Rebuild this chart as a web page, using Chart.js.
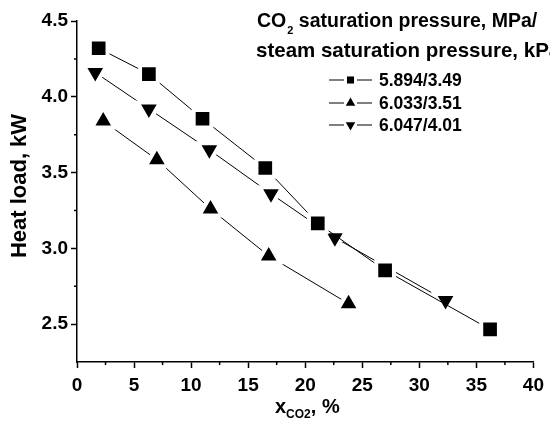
<!DOCTYPE html>
<html>
<head>
<meta charset="utf-8">
<script src="https://cdn.jsdelivr.net/npm/chart.js@4.4.1/dist/chart.umd.min.js"></script>
<style>
  html, body { margin: 0; padding: 0; background: #fff; }
  #wrap { width: 550px; height: 429px; }
</style>
</head>
<body>
<div id="wrap"><canvas id="chart"></canvas></div>
<script>
// Data
const xSquare = [1.9, 6.3, 11.0, 16.5, 21.1, 27.0, 36.2];
const ySquare = [4.32, 4.15, 3.855, 3.53, 3.165, 2.855, 2.465];
const xUp = [2.3, 7.0, 11.7, 16.8, 23.8];
const yUp = [3.84, 3.585, 3.26, 2.95, 2.635];
const xDown = [1.6, 6.3, 11.6, 17.0, 22.6, 32.3];
const yDown = [4.16, 3.92, 3.65, 3.36, 3.07, 2.655];

const seriesLabels = ['5.894/3.49', '6.033/3.51', '6.047/4.01'];
const xTicks = [0, 5, 10, 15, 20, 25, 30, 35, 40];
const yTicks = [2.5, 3.0, 3.5, 4.0, 4.5];
const xMinor = [2.5, 7.5, 12.5, 17.5, 22.5, 27.5, 32.5, 37.5];
const yMinor = [2.75, 3.25, 3.75, 4.25];

const FONT = "'Liberation Sans', Arial, sans-serif";

function pts(xs, ys) {
    return xs.map((x, i) => ({ x: x, y: ys[i] }));
}

function series(label, xs, ys, style, rot, r) {
    return {
        label: label,
        data: pts(xs, ys),
        borderColor: '#000',
        borderWidth: 1,
        backgroundColor: '#000',
        pointStyle: style,
        pointRotation: rot,
        pointRadius: r,
        pointBorderWidth: 4,
        pointBorderColor: '#fff',
        pointBackgroundColor: '#000',
        showLine: true,
        tension: 0
    };
}

// minor ticks, axis titles and the legend block
const extras = {
    id: 'extras',
    afterDraw(chart) {
        const ctx = chart.ctx;
        const xs = chart.scales.x, ys = chart.scales.y;
        const area = chart.chartArea;
        ctx.save();
        ctx.strokeStyle = '#000';
        ctx.lineWidth = 1.5;
        ctx.beginPath();
        xMinor.forEach(v => {
            const px = xs.getPixelForValue(v);
            ctx.moveTo(px, area.bottom);
            ctx.lineTo(px, area.bottom + 3);
        });
        yMinor.forEach(v => {
            const py = ys.getPixelForValue(v);
            ctx.moveTo(area.left, py);
            ctx.lineTo(area.left - 3, py);
        });
        ctx.stroke();

        ctx.fillStyle = '#000';
        // y title
        ctx.save();
        ctx.translate(26, 186);
        ctx.rotate(-Math.PI / 2);
        ctx.font = 'bold 22px ' + FONT;
        ctx.textAlign = 'center';
        ctx.textBaseline = 'alphabetic';
        ctx.fillText('Heat load, kW', 0, 0);
        ctx.restore();

        // x title: x_CO2, %
        ctx.textBaseline = 'alphabetic';
        ctx.textAlign = 'left';
        const big = 'bold 20px ' + FONT, small = 'bold 12px ' + FONT;
        ctx.font = big;
        const w1 = ctx.measureText('x').width;
        ctx.font = small;
        const w2 = ctx.measureText('CO2').width;
        let x0 = 275;
        const by = 413;
        ctx.font = big;
        ctx.fillText('x', x0, by);
        ctx.font = small;
        ctx.fillText('CO2', x0 + w1, by + 5);
        ctx.font = big;
        ctx.fillText(', %', x0 + w1 + w2, by);

        // legend title
        const tf = 'bold 19.5px ' + FONT;
        ctx.font = tf;
        let lx = 257;
        ctx.fillText('CO', lx, 27);
        lx += ctx.measureText('CO').width;
        ctx.font = 'bold 11px ' + FONT;
        ctx.fillText('2', lx + 1, 34);
        lx += ctx.measureText('2').width + 1;
        ctx.font = tf;
        ctx.fillText(' saturation pressure, MPa/', lx, 27);
        ctx.font = 'bold 20.5px ' + FONT;
        ctx.fillText('steam saturation pressure, kPa', 256, 57);

        // legend entries
        const ds = chart.data.datasets;
        const rows = [80, 103, 125];
        ds.forEach((d, i) => {
            const cy = rows[i];
            ctx.lineWidth = 1;
            ctx.beginPath();
            ctx.moveTo(329, cy);
            ctx.lineTo(344, cy);
            ctx.moveTo(357, cy);
            ctx.lineTo(372, cy);
            ctx.stroke();
            Chart.helpers.drawPoint(ctx, {
                pointStyle: d.pointStyle,
                rotation: d.pointRotation,
                radius: d.pointStyle === 'rect' ? 5 : 5.5,
                borderWidth: 0
            }, 350.5, cy);
            ctx.font = 'bold 17.5px ' + FONT;
            ctx.textBaseline = 'middle';
            ctx.fillText(d.label, 379, cy + 1);
        });
        ctx.restore();
    }
};

new Chart(document.getElementById('chart'), {
    type: 'scatter',
    data: {
        datasets: [
            series(seriesLabels[0], xSquare, ySquare, 'rect', 0, 12.5),
            series(seriesLabels[1], xUp, yUp, 'triangle', 0, 13),
            series(seriesLabels[2], xDown, yDown, 'triangle', 180, 13)
        ]
    },
    options: {
        responsive: true,
        maintainAspectRatio: false,
        animation: false,
        layout: { autoPadding: false, padding: { top: 21, right: 12, left: 0, bottom: 0 } },
        plugins: {
            legend: { display: false },
            tooltip: { enabled: false }
        },
        scales: {
            x: {
                type: 'linear',
                min: 0,
                max: 40,
                afterBuildTicks: s => { s.ticks = xTicks.map(v => ({ value: v })); },
                afterFit: s => { s.height = 67; },
                ticks: {
                    color: '#000',
                    font: { family: FONT, size: 19, weight: 'bold' },
                    padding: 6,
                    maxRotation: 0,
                    autoSkip: false
                },
                grid: { drawOnChartArea: false, drawTicks: true, tickLength: 6, tickColor: '#000', tickWidth: 1.5 },
                border: { color: '#000', width: 1.5 }
            },
            y: {
                type: 'linear',
                min: 2.25,
                max: 4.5,
                afterBuildTicks: s => { s.ticks = yTicks.map(v => ({ value: v })); },
                afterFit: s => { s.width = 77; },
                ticks: {
                    color: '#000',
                    font: { family: FONT, size: 19, weight: 'bold' },
                    padding: 3,
                    autoSkip: false,
                    callback: v => v.toFixed(1)
                },
                grid: { drawOnChartArea: false, drawTicks: true, tickLength: 6, tickColor: '#000', tickWidth: 1.5 },
                border: { color: '#000', width: 1.5 }
            }
        }
    },
    plugins: [extras]
});
</script>
</body>
</html>
